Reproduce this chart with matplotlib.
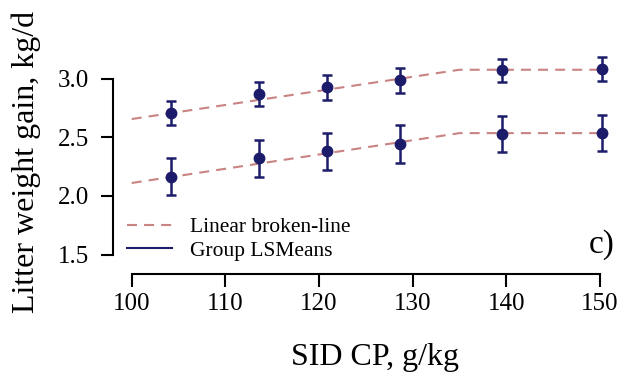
import matplotlib
matplotlib.use('Agg')
import matplotlib.pyplot as plt
import numpy as np

plt.rcParams['font.family'] = ['Liberation Serif', 'DejaVu Serif']

# ---- data ----
sid_cp = [104.2, 113.6, 120.9, 128.6, 139.5, 150.2]

upper_mean = [2.71, 2.87, 2.93, 2.99, 3.07, 3.08]
upper_lo = [2.605, 2.77, 2.82, 2.88, 2.97, 2.98]
upper_hi = [2.81, 2.97, 3.03, 3.09, 3.17, 3.185]

lower_mean = [2.165, 2.32, 2.38, 2.445, 2.53, 2.535]
lower_lo = [2.01, 2.165, 2.22, 2.28, 2.37, 2.38]
lower_hi = [2.325, 2.48, 2.535, 2.60, 2.68, 2.69]

# broken-line fits (start, breakpoint, end)
bl_x = [100, 135, 150]
bl_upper = [2.655, 3.075, 3.075]
bl_lower = [2.11, 2.535, 2.535]

x_ticks = [100, 110, 120, 130, 140, 150]
y_ticks = [1.5, 2.0, 2.5, 3.0]

dash_col = '#c98383'
pt_col = '#1c1c6b'

fig = plt.figure(figsize=(6.33, 3.81), dpi=100)
ax = fig.add_axes([0.1785, 0.281, 0.799, 0.596])

for fit in (bl_upper, bl_lower):
    ln, = ax.plot(bl_x, fit, color=dash_col, lw=1.5, zorder=1)
    ln.set_dashes((4.8, 3.4))

for mean, lo, hi in ((upper_mean, upper_lo, upper_hi), (lower_mean, lower_lo, lower_hi)):
    m = np.array(mean)
    err = [m - np.array(lo), np.array(hi) - m]
    ax.errorbar(sid_cp, m, yerr=err, fmt='o', color=pt_col, ms=7.5,
                elinewidth=1.8, capsize=3.5, capthick=1.8, zorder=3)

ax.set_xlim(98, 152)
ax.set_ylim(1.335, 3.27)
ax.set_xticks(x_ticks)
ax.set_yticks(y_ticks)
ax.set_xticklabels([str(t) for t in x_ticks])
ax.set_yticklabels([f'{t:.1f}' for t in y_ticks])

for s in ('top', 'right'):
    ax.spines[s].set_visible(False)
ax.spines['left'].set_bounds(1.5, 3.0)
ax.spines['bottom'].set_bounds(100, 150)
for s in ('left', 'bottom'):
    ax.spines[s].set_linewidth(1.5)
ax.tick_params(direction='out', length=9, width=1.5, labelsize=18)
ax.tick_params(axis='y', pad=8)
ax.tick_params(axis='x', pad=5)

# legend drawn R style, no frame
leg_dash, = ax.plot([], [], color=dash_col, lw=1.5)
leg_dash.set_dashes((4.8, 3.4))
leg_pt, = ax.plot([], [], color=pt_col, lw=1.5)
ax.legend([leg_dash, leg_pt], ['Linear broken-line', 'Group LSMeans'],
          loc='lower left', bbox_to_anchor=(0.011, 0.02), frameon=False,
          fontsize=15.5, handlelength=2.1, handletextpad=0.8,
          labelspacing=0.16, borderaxespad=0.0)

ax.text(0.9925, 0.128, 'c)', transform=ax.transAxes, ha='right', va='center',
        fontsize=24)

fig.text(0.592, 0.062, 'SID CP, g/kg', ha='center', va='center', fontsize=23)
fig.text(0.042, 0.576, 'Litter weight gain, kg/d', ha='center', va='center',
         rotation=90, fontsize=23)

plt.savefig('out.png', dpi=100)
